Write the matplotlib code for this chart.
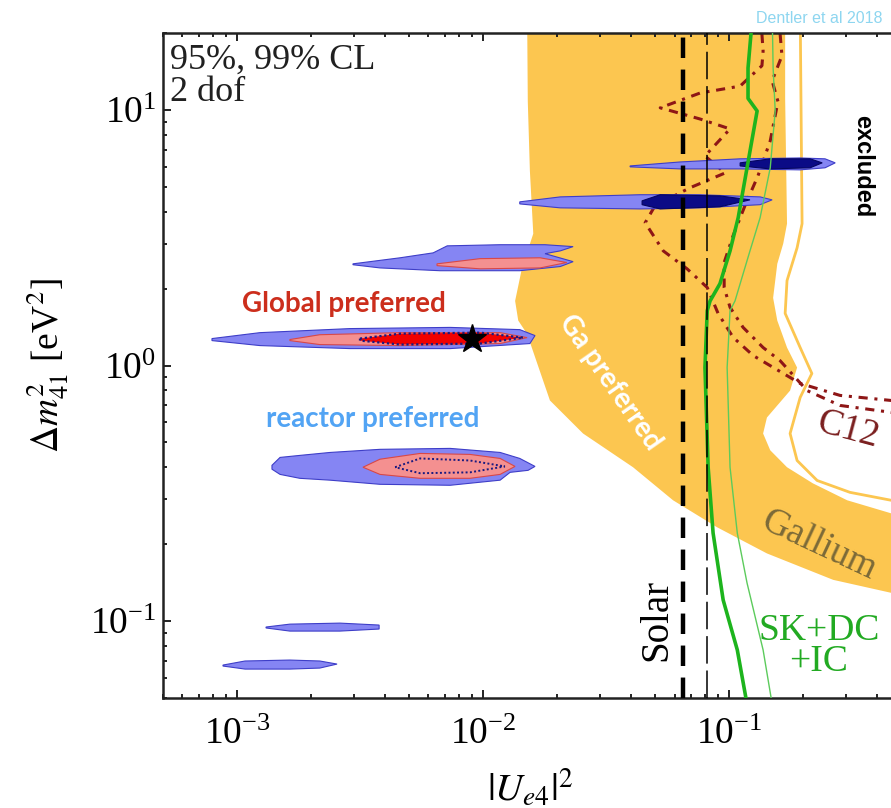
import matplotlib
matplotlib.use("Agg")
import matplotlib.pyplot as plt
from matplotlib.ticker import LogLocator, NullFormatter

plt.rcParams['font.family'] = ['Liberation Serif', 'DejaVu Serif']
plt.rcParams['mathtext.fontset'] = 'stix'

# ---------------------------------------------------------------- data
x_range = (5e-4, 1.0)          # |U_e4|^2
y_range = (0.05, 20.0)         # Delta m^2_41 [eV^2]
x_ticks = [1e-3, 1e-2, 1e-1]
y_ticks = [1e-1, 1e0, 1e1]

# Gallium preferred band (95% CL)
ga_x = [0.0151, 0.0152, 0.0155, 0.0160, 0.0144, 0.0135, 0.0139, 0.0151, 0.0187,
        0.0255, 0.0407, 0.0592, 0.0893, 0.1425, 0.265, 0.456, 0.60,
        0.60, 0.456, 0.302, 0.219, 0.172, 0.147, 0.1375, 0.1425, 0.177, 0.189,
        0.172, 0.157, 0.151, 0.157, 0.166, 0.172, 0.169, 0.169]
ga_y = [25.0, 10.8, 5.78, 3.28, 2.41, 1.79, 1.50, 1.33, 0.730,
        0.542, 0.400, 0.297, 0.233, 0.184, 0.145, 0.129, 0.120,
        0.245, 0.264, 0.297, 0.346, 0.400, 0.466, 0.542, 0.626, 0.798, 0.982,
        1.176, 1.50, 1.84, 2.50, 3.00, 3.59, 11.1, 25.0]

# Gallium 99% CL contour
ga99_x = [0.1945, 0.198, 0.189, 0.172, 0.169, 0.1945, 0.217, 0.1945, 0.177,
          0.189, 0.228, 0.310, 0.456, 0.60]
ga99_y = [25.0, 3.59, 2.89, 2.15, 1.60, 1.176, 0.931, 0.750, 0.542,
          0.425, 0.355, 0.319, 0.297, 0.280]

# SK+DC+IC exclusion limits
atm95_x = [0.1253, 0.1194, 0.1194, 0.130, 0.1183, 0.1089, 0.1009, 0.0918, 0.0837,
           0.0815, 0.0798, 0.0822, 0.0861, 0.0946, 0.108, 0.1194]
atm95_y = [25.0, 14.6, 11.1, 9.91, 5.94, 3.79, 2.81, 2.09, 1.79,
           1.64, 0.982, 0.400, 0.221, 0.121, 0.0771, 0.045]
atm99_x = [0.1496, 0.151, 0.154, 0.147, 0.1337, 0.1216, 0.1109, 0.1057, 0.1009,
           0.0982, 0.1009, 0.108, 0.1183, 0.1375, 0.151]
atm99_y = [25.0, 14.6, 9.91, 5.94, 3.79, 2.81, 2.09, 1.79, 1.64,
           0.982, 0.400, 0.221, 0.141, 0.0771, 0.045]

# Solar bounds
solar95_x = 0.0650
solar99_x = 0.0815

# nu_e - C12 scattering contours
c12a_x = [0.1337, 0.1375, 0.136, 0.1109, 0.0762, 0.0525, 0.0762, 0.1009, 0.0798,
          0.0964, 0.0693, 0.050, 0.0456, 0.054, 0.0675, 0.0815, 0.0902, 0.1038,
          0.1253, 0.1945, 0.2825, 0.456, 0.60]
c12a_y = [25.0, 17.0, 14.9, 12.4, 11.65, 10.2, 9.22, 8.43, 6.61,
          5.67, 4.96, 4.22, 3.62, 2.81, 2.39, 2.02, 1.60, 1.29,
          1.094, 0.851, 0.764, 0.730, 0.72]
c12b_x = [0.158, 0.164, 0.1496, 0.158, 0.147, 0.131, 0.116, 0.1038, 0.0955,
          0.0955, 0.1009, 0.114, 0.1375, 0.161, 0.2075, 0.2825, 0.456, 0.60]
c12b_y = [25.0, 16.3, 13.0, 10.8, 7.57, 5.52, 4.22, 3.22, 2.53,
          2.02, 1.69, 1.41, 1.176, 1.046, 0.798, 0.698, 0.656, 0.64]

# reactor preferred islands (99% light, 95% dark)
isl1_x = [0.0396, 0.0632, 0.1109, 0.1945, 0.2455, 0.270, 0.2455, 0.1945, 0.1109, 0.0632, 0.0396]
isl1_y = [6.04, 6.26, 6.44, 6.49, 6.44, 6.21, 5.94, 5.83, 5.88, 5.88, 5.99]
isl1c_x = [0.1109, 0.147, 0.2135, 0.239, 0.2135, 0.147, 0.1109]
isl1c_y = [6.21, 6.44, 6.44, 6.21, 5.94, 5.88, 6.04]

isl2_x = [0.0141, 0.0206, 0.0435, 0.0762, 0.1337, 0.1496, 0.1337, 0.0762, 0.0435, 0.0206, 0.0141]
isl2_y = [4.37, 4.57, 4.66, 4.66, 4.57, 4.45, 4.26, 4.14, 4.10, 4.14, 4.29]
isl2c_x = [0.0443, 0.0525, 0.0918, 0.1216, 0.0918, 0.0525, 0.0443]
isl2c_y = [4.41, 4.66, 4.61, 4.45, 4.18, 4.10, 4.26]

isl3_x = [0.00296, 0.0046, 0.00627, 0.00715, 0.01173, 0.01786, 0.02323, 0.0206, 0.01786,
          0.02323, 0.0206, 0.0141, 0.00668, 0.00381, 0.00296]
isl3_y = [2.50, 2.64, 2.76, 2.94, 2.97, 2.97, 2.92, 2.81, 2.74,
          2.55, 2.44, 2.35, 2.35, 2.41, 2.48]
isl3g_x = [0.0065, 0.00973, 0.01706, 0.0219, 0.01706, 0.00973, 0.0065]
isl3g_y = [2.50, 2.62, 2.64, 2.53, 2.41, 2.39, 2.46]

isl4_x = [0.000791, 0.00124, 0.00288, 0.00735, 0.0141, 0.01626, 0.0155, 0.00735, 0.00288, 0.00124, 0.000791]
isl4_y = [1.275, 1.345, 1.395, 1.41, 1.382, 1.31, 1.219, 1.165, 1.165, 1.197, 1.252]
isl4g_x = [0.00164, 0.00217, 0.0046, 0.01173, 0.0151, 0.01173, 0.0046, 0.00217, 0.00164]
isl4g_y = [1.264, 1.32, 1.345, 1.345, 1.286, 1.219, 1.197, 1.208, 1.252]
isl4r_x = [0.00316, 0.0046, 0.00973, 0.01455, 0.00973, 0.0046, 0.00316]
isl4r_y = [1.275, 1.333, 1.345, 1.286, 1.219, 1.208, 1.252]

isl5_x = [0.001387, 0.001496, 0.0018, 0.00239, 0.00381, 0.00735, 0.01173, 0.0141, 0.01626,
          0.01524, 0.01288, 0.01173, 0.00735, 0.00381, 0.00239, 0.0018, 0.001496, 0.001387]
isl5_y = [0.407, 0.437, 0.445, 0.457, 0.470, 0.474, 0.457, 0.433, 0.403,
          0.389, 0.382, 0.356, 0.340, 0.343, 0.356, 0.362, 0.375, 0.393]
isl5g_x = [0.00325, 0.00381, 0.00555, 0.00885, 0.01173, 0.01349, 0.01173, 0.00885, 0.00555, 0.00381]
isl5g_y = [0.400, 0.430, 0.453, 0.449, 0.433, 0.403, 0.375, 0.362, 0.362, 0.375]
isl5d_x = [0.00439, 0.00555, 0.00885, 0.01227, 0.00885, 0.00555, 0.00439]
isl5d_y = [0.400, 0.433, 0.425, 0.403, 0.382, 0.379, 0.400]

isl6_x = [0.001312, 0.00164, 0.00262, 0.00378, 0.00378, 0.00262, 0.00164, 0.001312]
isl6_y = [0.0948, 0.0973, 0.0982, 0.0965, 0.0931, 0.0914, 0.0914, 0.0940]
isl7_x = [0.000877, 0.001078, 0.00164, 0.00217, 0.00255, 0.00217, 0.00164, 0.001078, 0.000877]
isl7_y = [0.0673, 0.0698, 0.0704, 0.0698, 0.0679, 0.0655, 0.0649, 0.0649, 0.0667]

best_fit = (0.0090, 1.27)

# ---------------------------------------------------------------- colours
ORANGE = '#FCC650'
LBLUE = '#8585F3'
LBLUE_EDGE = '#3E3EC8'
DBLUE = '#0B0B86'
PINK = '#F49090'
RED = '#F20000'
GREEN = '#1DB41D'
GREEN_THIN = '#5CCB5C'
DARKRED = '#8E1616'

fig = plt.figure(figsize=(8.91, 8.08), dpi=100)
ax = fig.add_axes([0.1829, 0.1361, 0.9115, 0.823])
ax.set_xscale('log')
ax.set_yscale('log')
ax.set_xlim(*x_range)
ax.set_ylim(*y_range)

# Gallium
ax.fill(ga_x, ga_y, color=ORANGE, lw=0, zorder=1)
ax.plot(ga99_x, ga99_y, color=ORANGE, lw=2.0, zorder=1)

# C12
for cx, cy in ((c12a_x, c12a_y), (c12b_x, c12b_y)):
    ax.plot(cx, cy, color=DARKRED, lw=2.2, dashes=(3.0, 2.2, 1.0, 2.2), zorder=2)

# reactor / global islands
for ix, iy in ((isl1_x, isl1_y), (isl2_x, isl2_y), (isl3_x, isl3_y), (isl4_x, isl4_y),
               (isl5_x, isl5_y), (isl6_x, isl6_y), (isl7_x, isl7_y)):
    ax.fill(ix, iy, facecolor=LBLUE, edgecolor=LBLUE_EDGE, lw=0.8, zorder=3)
for ix, iy in ((isl1c_x, isl1c_y), (isl2c_x, isl2c_y)):
    ax.fill(ix, iy, facecolor=DBLUE, edgecolor='#050560', lw=0.8, zorder=4)
for ix, iy in ((isl3g_x, isl3g_y), (isl4g_x, isl4g_y), (isl5g_x, isl5g_y)):
    ax.fill(ix, iy, facecolor=PINK, edgecolor='#D84848', lw=0.8, zorder=4)
ax.fill(isl4r_x, isl4r_y, facecolor=RED, edgecolor='#1A1A80', lw=1.6,
        linestyle=(0, (1, 1.2)), zorder=5)
ax.fill(isl5d_x, isl5d_y, facecolor='none', edgecolor='#1A1A80', lw=1.4,
        linestyle=(0, (1, 1.2)), zorder=5)
ax.plot(*best_fit, marker='*', ms=21, color='black', zorder=7)

# atmospheric limits
ax.plot(atm95_x, atm95_y, color=GREEN, lw=2.6, zorder=6)
ax.plot(atm99_x, atm99_y, color=GREEN_THIN, lw=1.0, zorder=6)

# solar limits
ax.axvline(solar95_x, color='black', lw=3.2, dashes=(4.6, 2.6), zorder=6)
ax.axvline(solar99_x, color='black', lw=1.1, dashes=(18, 4.5), zorder=6)

# labels inside the plot
sans_bold = dict(family=['Lato', 'DejaVu Sans'], weight='bold', fontsize=20)
ax.text(0.00272, 1.74, 'Global preferred', color='#CC2E1C', ha='center', va='center', **sans_bold)
ax.text(0.00357, 0.615, 'reactor preferred', color='#52A4F4', ha='center', va='center', **sans_bold)
ax.text(0.0328, 0.858, 'Ga preferred', color='white', ha='center', va='center',
        rotation=-55, rotation_mode='anchor', **sans_bold)
ax.text(0.232, 0.198, 'Gallium', color='#7C6A38', fontsize=27, ha='center', va='center',
        rotation=-25, rotation_mode='anchor', zorder=8)
ax.text(0.305, 0.557, 'C12', color='#7A1F1F', fontsize=27, ha='center', va='center',
        rotation=-15, rotation_mode='anchor', zorder=8)
ax.text(0.0509, 0.101, 'Solar', color='black', fontsize=28, ha='center', va='center',
        rotation=90, zorder=8)
ax.text(0.232, 0.0798, 'SK+DC\n+IC', color='#22AA22', fontsize=27, ha='center', va='center',
        linespacing=0.85, zorder=8)
ax.text(0.348, 6.04, 'excluded', color='black', fontsize=17, ha='center', va='center',
        rotation=-90, family=['Liberation Sans', 'DejaVu Sans'], weight='bold', zorder=8)

fig.text(0.191, 0.9455, '95%, 99% CL\n2 dof', fontsize=26, ha='left', va='top',
         linespacing=0.95, color='#202020')
fig.text(0.849, 0.977, 'Dentler et al 2018', fontsize=11.5, ha='left', va='center',
         color='#8ED6F0', family=['Liberation Sans', 'DejaVu Sans'])

# axes cosmetics
ax.set_xticks(x_ticks)
ax.set_yticks(y_ticks)
ax.xaxis.set_minor_locator(LogLocator(base=10, subs=range(2, 10)))
ax.yaxis.set_minor_locator(LogLocator(base=10, subs=range(2, 10)))
ax.xaxis.set_minor_formatter(NullFormatter())
ax.yaxis.set_minor_formatter(NullFormatter())
ax.tick_params(which='both', direction='in', top=True, right=True, width=1.4,
               color='#222222', labelsize=27)
ax.tick_params(which='major', length=6)
ax.tick_params(which='minor', length=3)
ax.tick_params(axis='x', pad=14)
ax.tick_params(axis='y', pad=5)
for sp in ax.spines.values():
    sp.set_linewidth(1.8)
    sp.set_color('#222222')

ax.set_xlabel(r'$|U_{e4}|^2$', fontsize=28)
ax.xaxis.set_label_coords(0.452, -0.105)
fig.text(0.053, 0.548, r'$\Delta m^2_{41}$ [eV$^2$]', fontsize=27, rotation=90,
         ha='center', va='center')

fig.savefig('out.png', dpi=100)
